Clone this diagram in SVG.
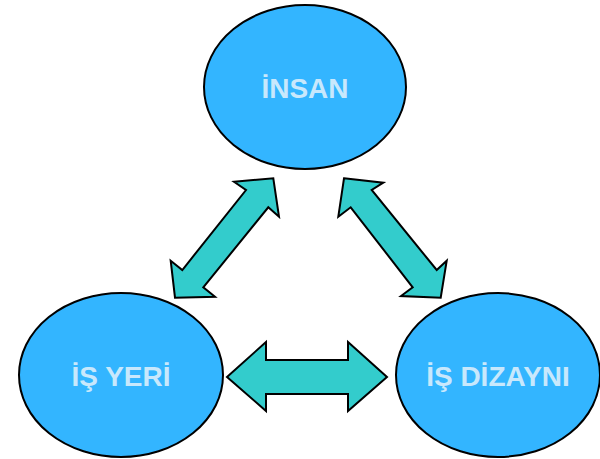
<svg xmlns="http://www.w3.org/2000/svg" width="600" height="459" viewBox="0 0 600 459">
<style>
.node ellipse{fill:#33b5ff;stroke:#000;stroke-width:2}
.node text{font-family:"Liberation Sans",Arial,sans-serif;font-weight:bold;font-size:28px;fill:#c8e8fc;text-anchor:middle}
.arrow{fill:#33cccc;stroke:#000;stroke-width:2;stroke-linejoin:miter}
</style>
<rect width="600" height="459" fill="#fff"/>
<g id="insan" class="node"><ellipse cx="305" cy="87" rx="101" ry="82"/><text x="305" y="98">İNSAN</text></g>
<g id="is-yeri" class="node"><ellipse cx="121" cy="375" rx="102" ry="82"/><text x="121" y="386">İŞ YERİ</text></g>
<g id="is-dizayni" class="node"><ellipse cx="498" cy="375" rx="102" ry="82"/><text x="498" y="386">İŞ DİZAYNI</text></g>
<g id="connectors">
<polygon class="arrow" points="234,181.7 273.3,178.3 279,216.7 268.3,207.3 203.3,287.3 215,296.7 175,297.7 170.7,260.7 182.3,270 246,190"/>
<polygon class="arrow" points="344,178.3 383.3,182.7 371.7,190 436.7,270 446.7,260.7 440.7,297.7 401,296 412.7,287.3 350.7,207.3 338.3,216.7"/>
<polygon class="arrow" points="227,377 266,342 266,360 348,360 348,342 387,377 348,411 348,394 266,394 266,411"/>
</g>
</svg>
